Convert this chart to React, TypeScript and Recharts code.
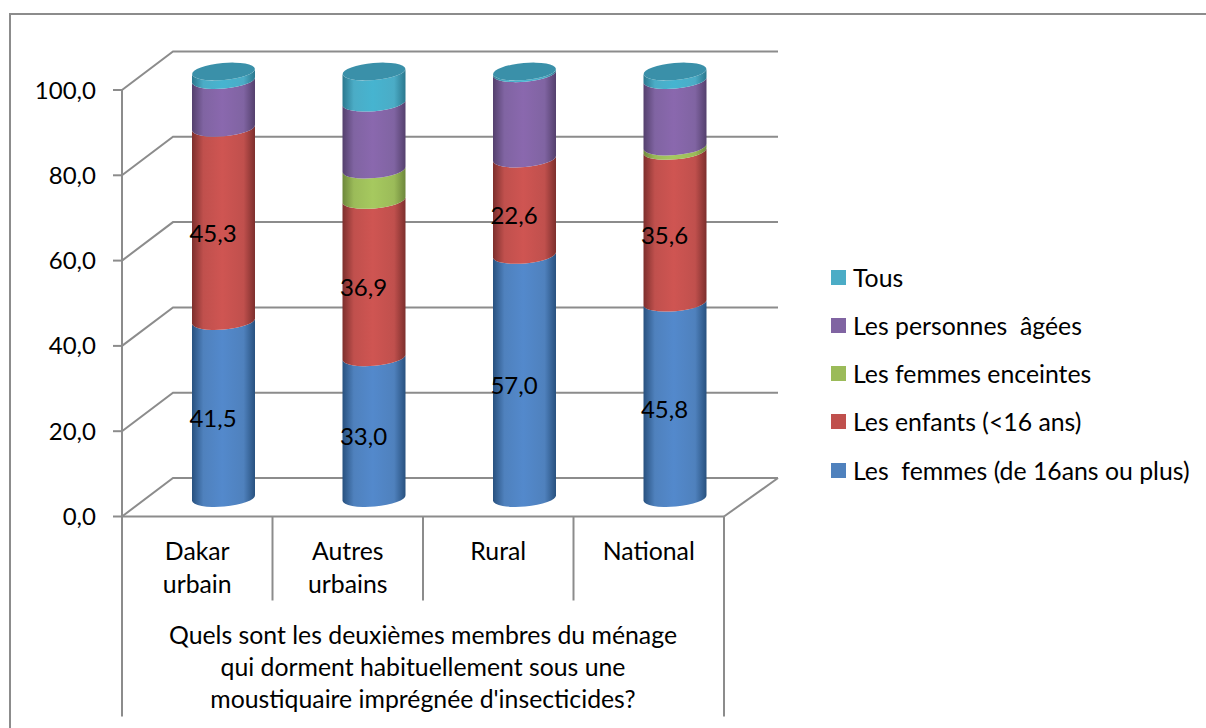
import React from "react";
import { BarChart, Bar, XAxis, YAxis, CartesianGrid, Legend, LabelList, Label } from "recharts";

const categories = ["Dakar urbain", "Autres urbains", "Rural", "National"];
const femmes = [41.5, 33.0, 57.0, 45.8];
const enfants = [45.3, 36.9, 22.6, 35.6];
const enceintes = [0, 7.1, 0, 1.0];
const agees = [11.2, 15.7, 20.0, 15.6];
const tous = [2.0, 7.3, 0.4, 2.0];
const yTicks = [0, 20, 40, 60, 80, 100];
const questionLines = [
  "Quels sont les deuxièmes membres du ménage",
  "qui dorment habituellement sous une",
  "moustiquaire imprégnée d'insecticides?",
];

const FONT = "Lato, 'Open Sans', sans-serif";
const FS = 24.8;
const NUM_FS = 24;
const GRID = "#8c8c8c";
const DX = 51;
const DY = 38.5;
const BAR_DX = 26;
const BAR_DY = 18.5;
const RY = 8.5;
const TILT = -5;
const SLOPE = Math.tan((TILT * Math.PI) / 180);

const seriesDefs = [
  { key: "femmes", name: "Les  femmes (de 16ans ou plus)", color: "#4f81bd", light: "#5389cc", dark: "#28517f" },
  { key: "enfants", name: "Les enfants (<16 ans)", color: "#c0504d", light: "#cf5552", dark: "#7d2f2d" },
  { key: "enceintes", name: "Les femmes enceintes", color: "#9bbb59", light: "#a6c95f", dark: "#6d873b" },
  { key: "agees", name: "Les personnes  âgées", color: "#8064a2", light: "#8a68ae", dark: "#54406d" },
  { key: "tous", name: "Tous", color: "#4bacc6", light: "#46b4d0", dark: "#2b788e" },
];

const data = categories.map((c, i) => ({
  name: c,
  femmes: femmes[i],
  enfants: enfants[i],
  enceintes: enceintes[i],
  agees: agees[i],
  tous: tous[i],
}));

function Cylinder(props: any) {
  const { x, y, width, height, gradient, cap } = props;
  if (!height || height <= 0) return <g />;
  const rx = width / 2;
  const cx = x + rx + BAR_DX;
  const dy = rx * SLOPE;
  const yt = y - BAR_DY;
  const yb = y + height - BAR_DY;
  const side = `M${cx - rx},${yt - dy} L${cx - rx},${yb - dy} A${rx},${RY} ${TILT} 0 0 ${cx + rx},${yb + dy} L${cx + rx},${yt + dy} A${rx},${RY} ${TILT} 0 1 ${cx - rx},${yt - dy} Z`;
  return (
    <g>
      <path d={side} fill={`url(#${gradient})`} />
      {cap ? <ellipse cx={cx} cy={yt} rx={rx} ry={RY} fill="#3a90a9" transform={`rotate(${TILT} ${cx} ${yt})`} /> : null}
    </g>
  );
}

function valueLabel(props: any) {
  const { x, y, width, height, value } = props;
  return (
    <text
      x={x + width / 2 + BAR_DX - 10.5}
      y={y + height / 2 - BAR_DY + 8}
      textAnchor="middle"
      dominantBaseline="central"
      fontFamily={FONT}
      fontSize={NUM_FS}
      fill="#000"
    >
      {String(Number(value).toFixed(1)).replace(".", ",")}
    </text>
  );
}

function gridLine(props: any) {
  const { x1, x2, y1, index } = props;
  const stroke = { stroke: GRID, strokeWidth: 2, fill: "none" };
  return (
    <g key={`g${index}`}>
      <polyline points={`${x1},${y1} ${x1 + DX},${y1 - DY} ${x2 + DX + 3},${y1 - DY}`} {...stroke} />
      {y1 > 500 ? <polyline points={`${x2},${y1} ${x2 + DX + 3},${y1 - DY}`} {...stroke} /> : null}
    </g>
  );
}

function catTick(props: any) {
  const { x, y, payload, index, visibleTicksCount } = props;
  const band = 150.5;
  const words = String(payload.value).split(" ");
  const count = visibleTicksCount ?? categories.length;
  return (
    <g>
      <line x1={x - band / 2} x2={x - band / 2} y1={y} y2={index === 0 ? y + 200 : y + 84} stroke={GRID} strokeWidth={2} />
      {index === count - 1 ? (
        <line x1={x + band / 2} x2={x + band / 2} y1={y} y2={y + 200} stroke={GRID} strokeWidth={2} />
      ) : null}
      {words.map((w, i) => (
        <text key={w} x={x} y={y + 34 + i * 33} textAnchor="middle" dominantBaseline="central" fontFamily={FONT} fontSize={FS} fill="#000">
          {w}
        </text>
      ))}
    </g>
  );
}

function questionLabel(props: any) {
  const { viewBox } = props;
  const cx = viewBox.x + viewBox.width / 2;
  return (
    <g>
      {questionLines.map((t, i) => (
        <text key={t} x={cx} y={viewBox.y + 118 + i * 32} textAnchor="middle" dominantBaseline="central" fontFamily={FONT} fontSize={FS} fill="#000">
          {t}
        </text>
      ))}
    </g>
  );
}

function legendContent() {
  const items = [...seriesDefs].reverse();
  return (
    <div style={{ fontFamily: FONT, fontSize: FS, color: "#000" }}>
      {items.map((s) => (
        <div key={s.key} style={{ height: 48.25, display: "flex", alignItems: "center", whiteSpace: "pre" }}>
          <span style={{ width: 15, height: 15, background: s.color, marginRight: 7, display: "inline-block", flex: "none" }} />
          <span>{s.name}</span>
        </div>
      ))}
    </div>
  );
}

export default function App() {
  return (
    <div style={{ position: "absolute", left: 0, top: 0, width: 1206, height: 728, overflow: "hidden", background: "#fff" }}>
      <div style={{ position: "absolute", left: 9, top: 13, right: 0, bottom: 0, borderTop: `2px solid ${GRID}`, borderLeft: `2px solid ${GRID}` }} />
      <BarChart
        width={1206}
        height={728}
        data={data}
        margin={{ top: 90, left: 0, right: 482, bottom: 0 }}
        barSize={63}
        style={{ position: "absolute", left: 0, top: 0 }}
      >
        <defs>
          {seriesDefs.map((s) => (
            <linearGradient key={s.key} id={`grad-${s.key}`} x1="0" y1="0" x2="1" y2="0">
              <stop offset="0%" stopColor={s.dark} />
              <stop offset="18%" stopColor={s.color} />
              <stop offset="48%" stopColor={s.light} />
              <stop offset="82%" stopColor={s.color} />
              <stop offset="100%" stopColor={s.dark} />
            </linearGradient>
          ))}
        </defs>
        <CartesianGrid vertical={false} horizontal={gridLine as any} />
        <XAxis
          dataKey="name"
          interval={0}
          height={211.5}
          tickLine={false}
          tickMargin={0}
          tickSize={0}
          axisLine={{ stroke: GRID, strokeWidth: 2 }}
          tick={catTick as any}
        >
          <Label content={questionLabel as any} />
        </XAxis>
        <YAxis
          type="number"
          domain={[0, 100]}
          ticks={yTicks}
          width={122}
          interval={0}
          tickSize={9}
          tickMargin={17}
          tickLine={{ stroke: GRID, strokeWidth: 2 }}
          axisLine={{ stroke: GRID, strokeWidth: 2 }}
          tick={{ fontFamily: FONT, fontSize: NUM_FS, fill: "#000" }}
          tickFormatter={(v: number) => v.toFixed(1).replace(".", ",")}
        />
        <Legend
          layout="vertical"
          align="center"
          verticalAlign="middle"
          content={legendContent as any}
          wrapperStyle={{ position: "absolute", left: 831, top: 253, width: 372 }}
        />
        {seriesDefs.map((s) => (
          <Bar
            key={s.key}
            dataKey={s.key}
            name={s.name}
            stackId="a"
            fill={s.color}
            isAnimationActive={false}
            shape={(p: any) => <Cylinder {...p} gradient={`grad-${s.key}`} cap={s.key === "tous"} />}
          >
            {s.key === "femmes" || s.key === "enfants" ? <LabelList dataKey={s.key} content={valueLabel as any} /> : null}
          </Bar>
        ))}
      </BarChart>
    </div>
  );
}
